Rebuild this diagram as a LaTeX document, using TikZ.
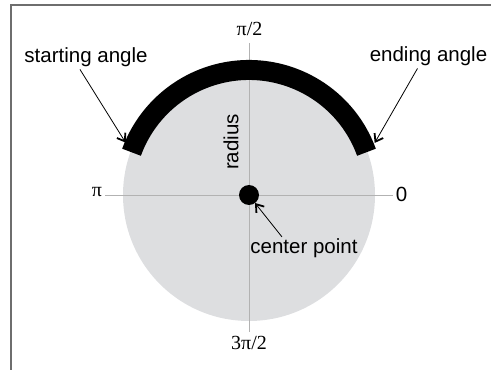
\documentclass[tikz,border=0pt]{standalone}
\usepackage{fontspec}
\setmainfont{Liberation Sans}
\newfontfamily\piserif{Liberation Serif}
\usetikzlibrary{arrows.meta}
\definecolor{discgray}{RGB}{221,222,224}
\definecolor{axisgray}{RGB}{178,178,178}
\definecolor{framegray}{RGB}{110,110,110}
\tikzset{
  lbl/.style={inner sep=1pt,font=\fontsize{20.5}{22}\selectfont},
  anglbl/.style={inner sep=1pt,font=\fontsize{20}{22}\selectfont\piserif},
  callout/.style={line width=0.8pt,-{Straight Barb[length=7pt,width=10pt,line width=1.8pt]}}
}
\begin{document}
\begin{tikzpicture}[x=1pt,y=1pt]
  \useasboundingbox (0,0) rectangle (491,370);
  \coordinate (O) at (249,175);
  \coordinate (E) at (105,175);
  \coordinate (W) at (393,175);
  \coordinate (N) at (249,327);
  \coordinate (S) at (249,38);
  % frame, top and left only
  \draw[framegray,line width=2pt] (491,364.5) -- (10.5,364.5) -- (10.5,0);
  % disc and axes
  \fill[discgray] (O) circle (126);
  \draw[axisgray,line width=0.9pt] (E) -- (W);
  \draw[axisgray,line width=0.9pt] (N) -- (S);
  % the arc
  \draw[line width=20pt] ([shift={(20:125)}]O) arc (20:160:125);
  \fill (O) circle (10);
  \coordinate (starttip) at ([shift={(157:134)}]O);
  \coordinate (endtip) at ([shift={(22.5:136)}]O);
  \coordinate (ctrtip) at (255,167);
  % labels
  \node[anglbl,anchor=base] (halfpi) at (249.5,334) {π/2};
  \node[anglbl,anchor=base] (threehalfpi) at (249,20) {3π/2};
  \node[anglbl,anchor=base] (pilbl) at (97,173) {π};
  \node[lbl,anchor=base] (zerolbl) at (401.5,168) {0};
  \node[lbl,anchor=base] (startlbl) at (86,307) {starting angle};
  \node[lbl,anchor=base] (endlbl) at (428.5,308) {ending angle};
  \node[lbl,anchor=base] (ctrlbl) at (304,116) {center point};
  \node[lbl,rotate=90] (radlbl) at (231,228) {radius};
  % arrows
  \draw[callout] ([xshift=-6pt,yshift=-1pt]startlbl.south) -- (starttip);
  \draw[callout] ([xshift=-11pt,yshift=-1pt]endlbl.south) -- (endtip);
  \draw[callout] ([xshift=-22pt,yshift=1pt]ctrlbl.north) -- (ctrtip);
\end{tikzpicture}
\end{document}
